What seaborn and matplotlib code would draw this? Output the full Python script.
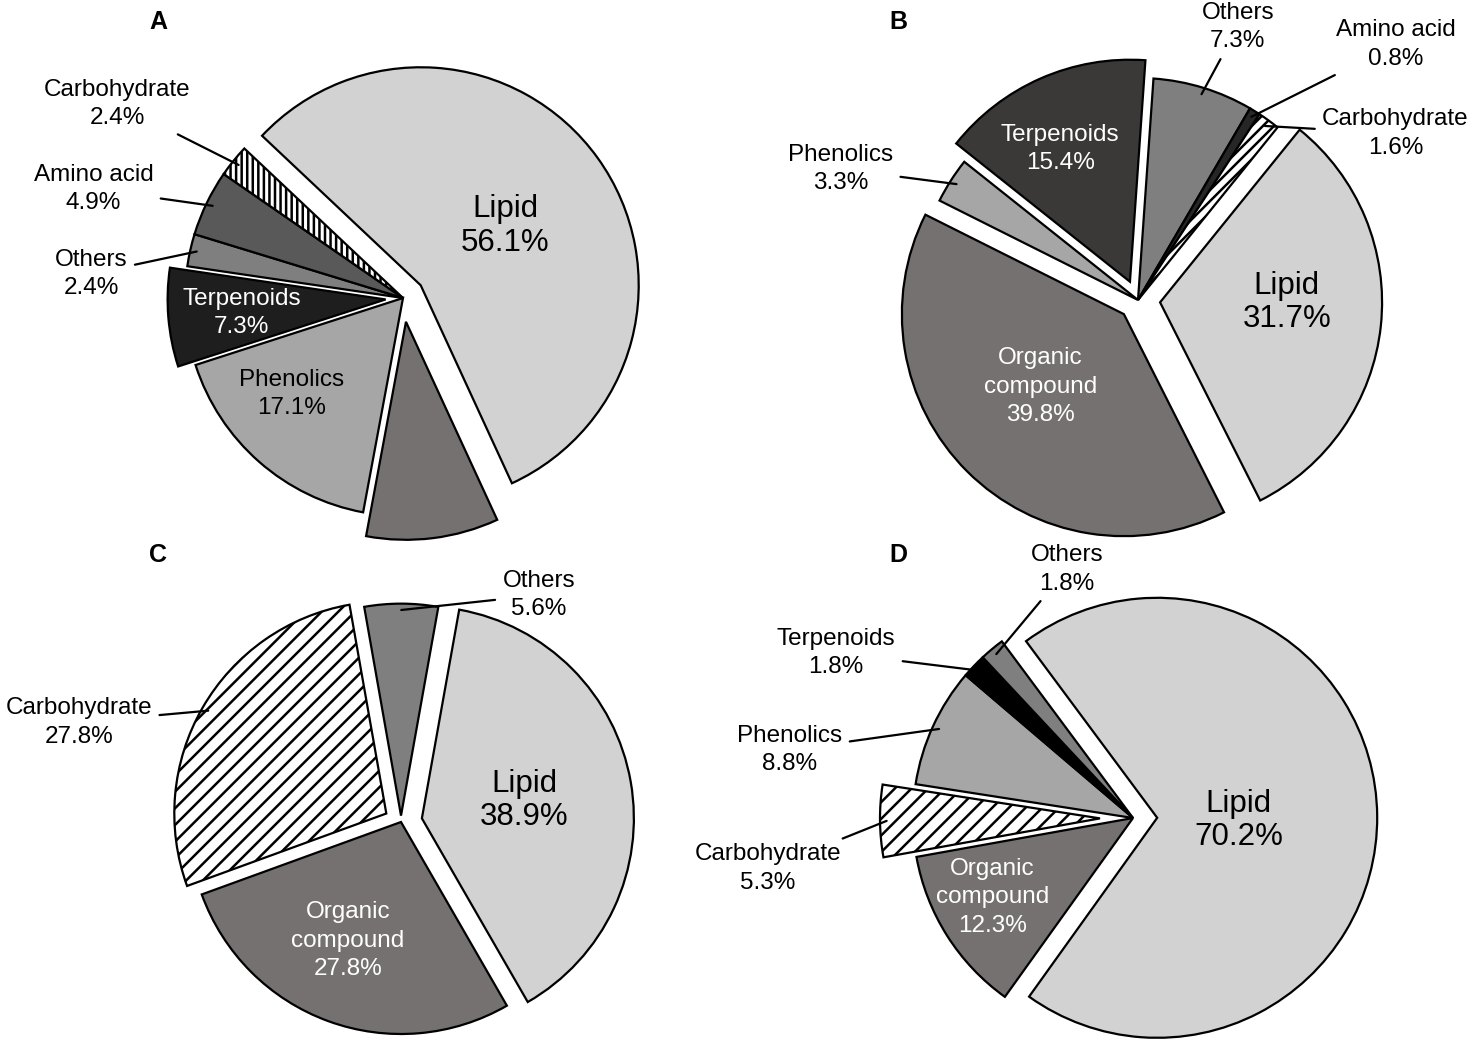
import numpy as np
import matplotlib
matplotlib.use("Agg")
import matplotlib.pyplot as plt
import seaborn as sns

sns.set_theme(style="white")
plt.rcParams["font.family"] = ["Liberation Sans", "DejaVu Sans"]
plt.rcParams["text.color"] = "black"
plt.rcParams["hatch.linewidth"] = 1.8
plt.rcParams["hatch.color"] = "black"

W_PX, H_PX = 1476, 1044

# ---- data ----
A_labels = ["Lipid", "Organic compound", "Phenolics", "Terpenoids", "Others", "Amino acid", "Carbohydrate"]
A_values = [56.1, 9.8, 17.1, 7.3, 2.4, 4.9, 2.4]

B_labels = ["Others", "Amino acid", "Carbohydrate", "Lipid", "Organic compound", "Phenolics", "Terpenoids"]
B_values = [7.3, 0.8, 1.6, 31.7, 39.8, 3.3, 15.4]

C_labels = ["Others", "Lipid", "Organic compound", "Carbohydrate"]
C_values = [5.6, 38.9, 27.8, 27.8]

D_labels = ["Lipid", "Organic compound", "Carbohydrate", "Phenolics", "Terpenoids", "Others"]
D_values = [70.2, 12.3, 5.3, 8.8, 1.8, 1.8]

# ---- style ----
base_colors = {
    "Lipid": "#d3d2d2",
    "Organic compound": "#767171",
    "Phenolics": "#a6a6a6",
    "Terpenoids": "#1e1e1e",
    "Others": "#7f7f7f",
    "Amino acid": "#595959",
    "Carbohydrate": "white",
}
white_text = {"Terpenoids", "Organic compound"}

panels = [
    dict(tag="A", labels=A_labels, values=A_values, center=(403, 298), r=218, start=136.7,
         explode={"Lipid": 0.10, "Organic compound": 0.11, "Terpenoids": 0.08},
         colors={}, hatch="|||",
         inside={"Lipid": (0.47, 0.33), "Phenolics": (-0.51, -0.44), "Terpenoids": (-0.74, -0.07)},
         outside={"Carbohydrate": (-1.31, 0.89), "Amino acid": (-1.42, 0.50), "Others": (-1.43, 0.11)},
         tag_pos=(158, 22)),
    dict(tag="B", labels=B_labels, values=B_values, center=(1138, 300), r=222, start=86,
         explode={"Lipid": 0.10, "Organic compound": 0.09, "Terpenoids": 0.09},
         colors={"Terpenoids": "#3b3838", "Amino acid": "#262626"}, hatch="///",
         inside={"Lipid": (0.67, -0.01), "Organic compound": (-0.44, -0.39), "Terpenoids": (-0.35, 0.68)},
         outside={"Phenolics": (-1.34, 0.59), "Others": (0.45, 1.23), "Amino acid": (1.16, 1.15),
                  "Carbohydrate": (1.16, 0.75)},
         tag_pos=(898, 22)),
    dict(tag="C", labels=C_labels, values=C_values, center=(401, 822), r=212, start=100,
         explode={"Others": 0.03, "Lipid": 0.10, "Carbohydrate": 0.08},
         colors={}, hatch="//",
         inside={"Lipid": (0.58, 0.10), "Organic compound": (-0.25, -0.56)},
         outside={"Carbohydrate": (-1.52, 0.47), "Others": (0.65, 1.07)},
         tag_pos=(158, 555)),
    dict(tag="D", labels=D_labels, values=D_values, center=(1133, 818), r=220, start=126.6,
         explode={"Lipid": 0.11, "Carbohydrate": 0.15},
         colors={"Terpenoids": "black"}, hatch="//",
         inside={"Lipid": (0.48, -0.01), "Organic compound": (-0.64, -0.36)},
         outside={"Carbohydrate": (-1.66, -0.23), "Phenolics": (-1.56, 0.31),
                  "Terpenoids": (-1.35, 0.75), "Others": (-0.30, 1.13)},
         tag_pos=(898, 555)),
]


def label_text(name, value):
    if name == "Organic compound":
        return f"Organic\ncompound\n{value}%"
    return f"{name}\n{value}%"


fig = plt.figure(figsize=(W_PX / 100, H_PX / 100), dpi=100)
HALF = 1.9  # axes half width in data units

for p in panels:
    cx, cy = p["center"]
    r = p["r"]
    half_px = HALF * r
    ax = fig.add_axes([(cx - half_px) / W_PX, 1 - (cy + half_px) / H_PX,
                       2 * half_px / W_PX, 2 * half_px / H_PX])
    ax.set_facecolor("none")

    cols = [p["colors"].get(n, base_colors[n]) for n in p["labels"]]
    expl = [p["explode"].get(n, 0) for n in p["labels"]]
    wedges, _ = ax.pie(p["values"], colors=cols, explode=expl, startangle=p["start"],
                       counterclock=False, radius=1,
                       wedgeprops=dict(edgecolor="black", linewidth=1.6))
    for w, n in zip(wedges, p["labels"]):
        if n == "Carbohydrate":
            w.set_hatch(p["hatch"])

    for w, n, v in zip(wedges, p["labels"], p["values"]):
        if n in p["inside"]:
            tx, ty = p["inside"][n]
            big = n == "Lipid"
            ax.text(tx, ty, label_text(n, v), ha="center", va="center",
                    fontsize=22.5 if big else 17.5,
                    color="white" if n in white_text else "black",
                    linespacing=1.14 if big else 1.38)
        elif n in p["outside"]:
            tx, ty = p["outside"][n]
            mid = np.deg2rad((w.theta1 + w.theta2) / 2)
            wx = w.center[0] + 0.97 * w.r * np.cos(mid)
            wy = w.center[1] + 0.97 * w.r * np.sin(mid)
            ax.annotate(label_text(n, v), xy=(wx, wy), xytext=(tx, ty),
                        ha="center", va="center", fontsize=17.5, linespacing=1.38,
                        color="black",
                        arrowprops=dict(arrowstyle="-", color="black", lw=1.6,
                                        shrinkA=3, shrinkB=0))

    ax.set_xlim(-HALF, HALF)
    ax.set_ylim(-HALF, HALF)
    ax.set_aspect("equal")
    ax.set_axis_off()

    fig.text(p["tag_pos"][0] / W_PX, 1 - p["tag_pos"][1] / H_PX, p["tag"],
             ha="center", va="center", fontsize=18, fontweight="bold", color="black")

fig.savefig("out.png", dpi=100, facecolor="white")
